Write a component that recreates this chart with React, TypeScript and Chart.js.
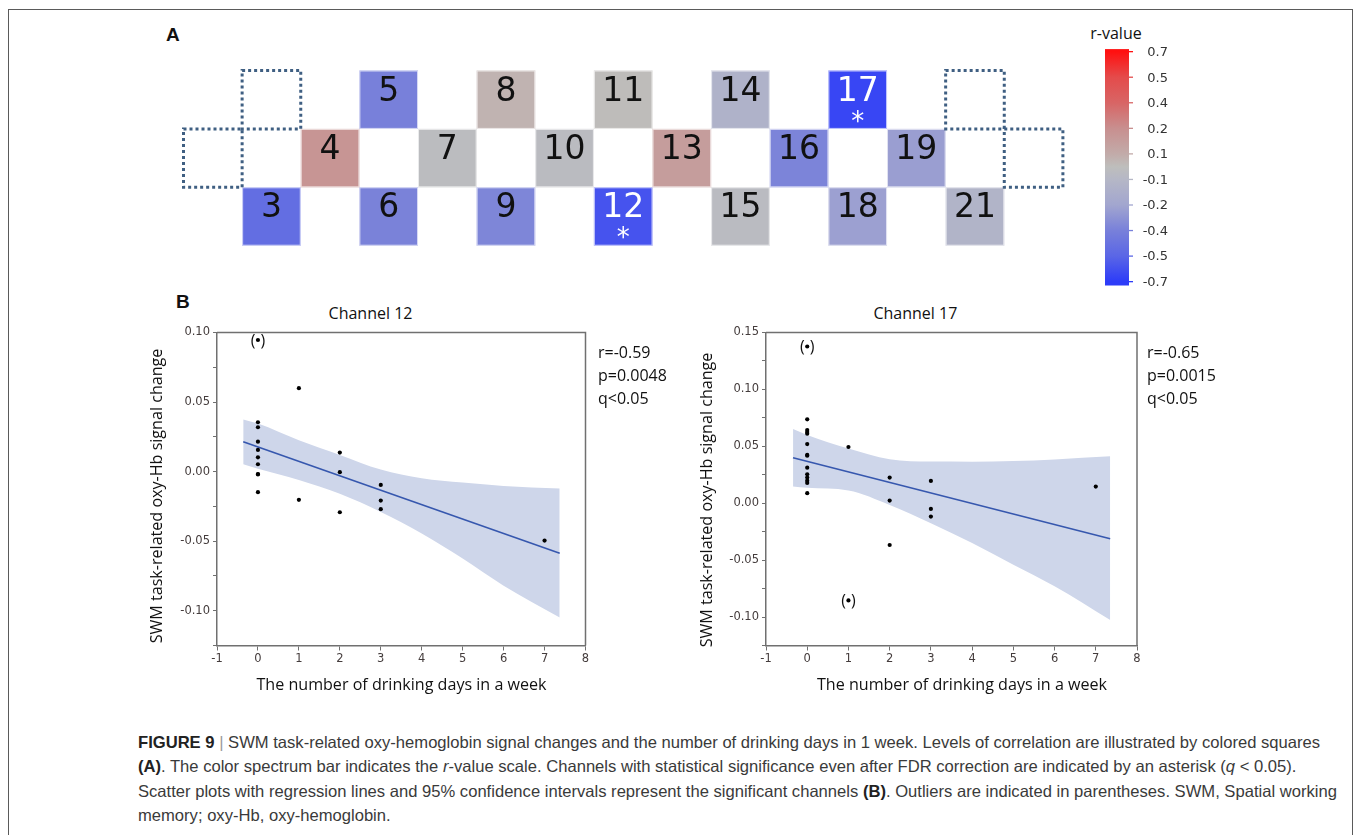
import React, { useEffect, useLayoutEffect, useRef } from "react";
import { Chart, registerables } from "chart.js";
Chart.register(...registerables);

// ===== Panel A: channel map =====
const channelIds = [3, 4, 5, 6, 7, 8, 9, 10, 11, 12, 13, 14, 15, 16, 17, 18, 19, 21];
const channelCols = [2, 3, 4, 4, 5, 6, 6, 7, 8, 8, 9, 10, 10, 11, 12, 12, 13, 14];
const channelRows = [0, 1, 2, 0, 1, 2, 0, 1, 2, 0, 1, 2, 0, 1, 2, 0, 1, 0];
const channelR = [-0.47, 0.18, -0.4, -0.39, -0.03, 0.06, -0.37, -0.04, 0.01, -0.59, 0.15, -0.13, -0.05, -0.38, -0.65, -0.23, -0.24, -0.12];
const significantChannels = [12, 17];
const emptyCols = [2, 1, 14, 15];
const emptyRows = [2, 1, 2, 1];

// ===== colour bar =====
const colorbarTicks = [0.7, 0.5, 0.4, 0.2, 0.1, -0.1, -0.2, -0.4, -0.5, -0.7];
const colorStopValues = [0.7, 0.5, 0.4, 0.2, 0.1, 0, -0.1, -0.2, -0.4, -0.5, -0.7];
const colorStopHex = ["#FF1010", "#E44B4B", "#D86565", "#C88F8F", "#C2ABA9", "#BEBEBC", "#B5B7C6", "#A2A6CF", "#7880DA", "#5A66E6", "#2D3CF8"];

// ===== Panel B: Channel 12 =====
const ch12X = [0, 0, 0, 0, 0, 0, 0, 0, 0, 1, 1, 2, 2, 2, 3, 3, 3, 7];
const ch12Y = [0.0355, 0.0319, 0.0215, 0.0156, 0.0103, 0.0053, -0.0017, -0.002, -0.0148, 0.06, -0.0203, 0.0137, -0.0004, -0.0292, -0.0096, -0.0208, -0.027, -0.0496];
const ch12OutX = [0];
const ch12OutY = [0.0946];
const ch12FitX = [-0.36, 7.37];
const ch12FitY = [0.0214, -0.0587];
const ch12BandX = [-0.36, 0, 1, 2, 3, 4, 5, 6, 7.37];
const ch12BandUpper = [0.0375, 0.0345, 0.0225, 0.012, 0.0015, -0.0047, -0.0079, -0.0103, -0.0122];
const ch12BandLower = [0.0053, 0.002, -0.006, -0.016, -0.029, -0.0445, -0.0625, -0.082, -0.1048];
const ch12Stats = ["r=-0.59", "p=0.0048", "q<0.05"];

// ===== Panel B: Channel 17 =====
const ch17X = [0, 0, 0, 0, 0, 0, 0, 0, 0, 0, 0, 0, 0, 1, 2, 2, 2, 3, 3, 3, 7];
const ch17Y = [0.0737, 0.0643, 0.0625, 0.0611, 0.052, 0.0424, 0.0418, 0.0312, 0.0254, 0.0225, 0.0198, 0.0178, 0.0088, 0.0494, 0.0225, 0.0023, -0.0367, 0.0196, -0.005, -0.0117, 0.0146];
const ch17OutX = [0, 1];
const ch17OutY = [0.1377, -0.0854];
const ch17FitX = [-0.344, 7.35];
const ch17FitY = [0.04, -0.0312];
const ch17BandX = [-0.344, 0, 1, 2, 3, 4, 5, 6, 7.35];
const ch17BandUpper = [0.0652, 0.06, 0.048, 0.0386, 0.0366, 0.0365, 0.037, 0.0385, 0.0412];
const ch17BandLower = [0.0146, 0.0135, 0.0112, -0.0015, -0.0176, -0.035, -0.054, -0.073, -0.1026];
const ch17Stats = ["r=-0.65", "p=0.0015", "q<0.05"];

// ===== axes =====
const xTickValues = [-1, 0, 1, 2, 3, 4, 5, 6, 7, 8];
const xTickLabels = ["-1", "0", "1", "2", "3", "4", "5", "6", "7", "8"];
const ch12YTicks = [-0.125, -0.1, -0.075, -0.05, -0.025, 0, 0.025, 0.05, 0.075, 0.1];
const ch12YLabels = ["", "-0.10", "", "-0.05", "", "0.00", "", "0.05", "", "0.10"];
const ch17YTicks = [-0.125, -0.1, -0.075, -0.05, -0.025, 0, 0.025, 0.05, 0.075, 0.1, 0.125, 0.15];
const ch17YLabels = ["", "-0.10", "", "-0.05", "", "0.00", "", "0.05", "", "0.10", "", "0.15"];

const FIG_FONT = '"Open Sans", "Noto Sans", sans-serif';
const TICK_FONT = '"DejaVu Sans", sans-serif';
const CAP_FONT = '"Liberation Sans", Arial, sans-serif';

function hexToRgb(h: string) {
  const n = parseInt(h.slice(1), 16);
  return [(n >> 16) & 255, (n >> 8) & 255, n & 255];
}
function colorFor(v: number) {
  const cols = colorStopHex.map(hexToRgb);
  if (v >= colorStopValues[0]) return `rgb(${cols[0].join(",")})`;
  for (let i = 0; i < colorStopValues.length - 1; i++) {
    const a = colorStopValues[i], b = colorStopValues[i + 1];
    if (v <= a && v >= b) {
      const t = (a - v) / (a - b);
      const c = cols[i].map((x, k) => Math.round(x + (cols[i + 1][k] - x) * t));
      return `rgb(${c.join(",")})`;
    }
  }
  return `rgb(${cols[cols.length - 1].join(",")})`;
}
function barPosFor(v: number) {
  for (let i = 0; i < colorbarTicks.length - 1; i++) {
    const a = colorbarTicks[i], b = colorbarTicks[i + 1];
    if (v <= a && v >= b) return i + (a - v) / (a - b);
  }
  return v > colorbarTicks[0] ? 0 : colorbarTicks.length - 1;
}

function ChartCanvas({ left, top, width, height, make }: any) {
  const ref = useRef<HTMLCanvasElement>(null);
  useEffect(() => {
    const chart = new Chart(ref.current as HTMLCanvasElement, make());
    return () => chart.destroy();
  }, []);
  return (
    <canvas
      ref={ref}
      width={width}
      height={height}
      style={{ position: "absolute", left, top, width, height, display: "block" }}
    />
  );
}

// ---------- Panel A chart ----------
const cellPlugin = {
  id: "cells",
  afterDatasetsDraw(chart: any) {
    const { ctx } = chart;
    const xs = chart.scales.x, ys = chart.scales.y;
    ctx.save();
    channelIds.forEach((id, i) => {
      const c = channelCols[i], r = channelRows[i];
      const x0 = xs.getPixelForValue(c - 1), x1 = xs.getPixelForValue(c);
      const yT = ys.getPixelForValue(r + 1), yB = ys.getPixelForValue(r);
      ctx.fillStyle = colorFor(channelR[i]);
      ctx.fillRect(x0, yT, x1 - x0, yB - yT);
      ctx.strokeStyle = "rgba(255,255,255,0.7)";
      ctx.lineWidth = 1;
      ctx.strokeRect(x0 + 0.5, yT + 0.5, x1 - x0 - 1, yB - yT - 1);
      const sig = significantChannels.includes(id);
      ctx.fillStyle = sig ? "#ffffff" : "#111111";
      ctx.font = '33px "DejaVu Sans"';
      ctx.textAlign = "center";
      ctx.textBaseline = "alphabetic";
      ctx.fillText(String(id), (x0 + x1) / 2, yT + 30);
      if (sig) {
        ctx.font = '26px "DejaVu Sans"';
        ctx.fillText("*", (x0 + x1) / 2, yT + 59);
      }
    });
    ctx.strokeStyle = "#3F5F82";
    ctx.lineWidth = 3;
    ctx.setLineDash([3, 3]);
    emptyCols.forEach((c, i) => {
      const r = emptyRows[i];
      const x0 = xs.getPixelForValue(c - 1), x1 = xs.getPixelForValue(c);
      const yT = ys.getPixelForValue(r + 1), yB = ys.getPixelForValue(r);
      ctx.strokeRect(x0, yT, x1 - x0, yB - yT);
    });
    ctx.restore();
  },
};

function makePanelA() {
  return {
    type: "scatter",
    data: {
      datasets: [
        {
          data: channelIds.map((_, i) => ({ x: channelCols[i] - 0.5, y: channelRows[i] + 0.5 })),
          pointRadius: 0,
        },
      ],
    },
    options: {
      responsive: false,
      animation: false,
      events: [],
      layout: { padding: { left: 10.5, top: 10.5, right: 10.1, bottom: 10.3 } },
      plugins: { legend: { display: false }, tooltip: { enabled: false } },
      scales: {
        x: { type: "linear", min: 0, max: 15, display: false },
        y: { type: "linear", min: 0, max: 3, display: false },
      },
    },
    plugins: [cellPlugin],
  };
}

// ---------- colour bar chart ----------
const colorbarPlugin = {
  id: "colorbar",
  afterDatasetsDraw(chart: any) {
    const { ctx, chartArea } = chart;
    const ys = chart.scales.y;
    const { left, right, top, bottom } = chartArea;
    ctx.save();
    const g = ctx.createLinearGradient(0, top, 0, bottom);
    g.addColorStop(0, colorStopHex[0]);
    colorStopValues.forEach((v, i) => {
      const off = (ys.getPixelForValue(barPosFor(v)) - top) / (bottom - top);
      g.addColorStop(Math.min(1, Math.max(0, off)), colorStopHex[i]);
    });
    g.addColorStop(1, colorStopHex[colorStopHex.length - 1]);
    ctx.fillStyle = g;
    ctx.fillRect(left, top, right - left, bottom - top);
    ctx.font = '13px "DejaVu Sans"';
    ctx.textAlign = "right";
    ctx.textBaseline = "middle";
    colorbarTicks.forEach((v, i) => {
      const py = ys.getPixelForValue(i);
      ctx.strokeStyle = colorFor(v);
      ctx.lineWidth = 1.3;
      ctx.beginPath();
      ctx.moveTo(right, py);
      ctx.lineTo(right + 4, py);
      ctx.stroke();
      ctx.fillStyle = "#333";
      ctx.fillText(v.toFixed(1), right + 39, py + 1);
    });
    ctx.restore();
  },
};

function makeColorbar() {
  return {
    type: "scatter",
    data: { datasets: [{ data: [], pointRadius: 0 }] },
    options: {
      responsive: false,
      animation: false,
      events: [],
      layout: { padding: { left: 10, top: 9.1, right: 66, bottom: 10.5 } },
      plugins: { legend: { display: false }, tooltip: { enabled: false } },
      scales: {
        x: { type: "linear", min: 0, max: 1, display: false },
        y: { type: "linear", min: -0.1, max: 9.15, reverse: true, display: false },
      },
    },
    plugins: [colorbarPlugin],
  };
}

// ---------- scatter charts ----------
const boxPlugin = {
  id: "box",
  afterDraw(chart: any) {
    const { ctx, chartArea } = chart;
    ctx.save();
    ctx.strokeStyle = "#707070";
    ctx.lineWidth = 1.5;
    ctx.beginPath();
    ctx.moveTo(chartArea.left, chartArea.top);
    ctx.lineTo(chartArea.right, chartArea.top);
    ctx.lineTo(chartArea.right, chartArea.bottom);
    ctx.stroke();
    ctx.restore();
  },
};

const parenPlugin = {
  id: "paren",
  afterDatasetsDraw(chart: any) {
    const { ctx } = chart;
    const meta = chart.getDatasetMeta(1);
    ctx.save();
    ctx.fillStyle = "#111";
    ctx.font = `16px ${FIG_FONT}`;
    ctx.textBaseline = "middle";
    meta.data.forEach((el: any) => {
      ctx.textAlign = "right";
      ctx.fillText("(", el.x - 2.5, el.y + 1);
      ctx.textAlign = "left";
      ctx.fillText(")", el.x + 2.5, el.y + 1);
    });
    ctx.restore();
  },
};

function makeScatter(p: any) {
  const pts = (xs: number[], ys: number[]) => xs.map((x, i) => ({ x, y: ys[i] }));
  const axisColor = "#707070";
  return {
    type: "scatter",
    data: {
      datasets: [
        { data: pts(p.x, p.y), pointRadius: 2.1, pointBackgroundColor: "#000", pointBorderWidth: 0, order: 0 },
        { data: pts(p.outX, p.outY), pointRadius: 2.1, pointBackgroundColor: "#000", pointBorderWidth: 0, order: 0 },
        { data: pts(p.fitX, p.fitY), showLine: true, borderColor: "#3657AE", borderWidth: 1.6, pointRadius: 0, order: 1 },
        {
          data: pts(p.bandX, p.upper), showLine: true, borderWidth: 0, borderColor: "rgba(0,0,0,0)",
          pointRadius: 0, fill: "+1", backgroundColor: "#CED6EA", cubicInterpolationMode: "monotone", order: 2,
        },
        {
          data: pts(p.bandX, p.lower), showLine: true, borderWidth: 0, borderColor: "rgba(0,0,0,0)",
          pointRadius: 0, fill: false, cubicInterpolationMode: "monotone", order: 3,
        },
      ],
    },
    options: {
      responsive: false,
      animation: false,
      events: [],
      layout: { padding: { left: 0, top: p.padTop, right: p.padRight, bottom: p.padBottom } },
      plugins: { legend: { display: false }, tooltip: { enabled: false } },
      scales: {
        x: {
          type: "linear", min: -1, max: 8,
          afterBuildTicks: (axis: any) => { axis.ticks = xTickValues.map((v) => ({ value: v })); },
          afterFit: (s: any) => { s.height = 30; },
          ticks: {
            autoSkip: false, maxRotation: 0, padding: 2,
            callback: (_v: any, i: number) => xTickLabels[i],
            font: { family: TICK_FONT, size: 11.5 }, color: "#443c3c",
          },
          grid: { drawOnChartArea: false, drawTicks: true, tickLength: 5, color: axisColor, lineWidth: 1 },
          border: { color: axisColor, width: 1.5 },
        },
        y: {
          type: "linear", min: p.yTicks[0], max: p.yTicks[p.yTicks.length - 1],
          afterBuildTicks: (axis: any) => { axis.ticks = p.yTicks.map((v: number) => ({ value: v })); },
          afterFit: (s: any) => { s.width = p.yAxisWidth; },
          ticks: {
            autoSkip: false, padding: 3,
            callback: (_v: any, i: number) => p.yLabels[i],
            font: { family: TICK_FONT, size: 11.5 }, color: "#443c3c",
          },
          grid: { drawOnChartArea: false, drawTicks: true, tickLength: 4, color: axisColor, lineWidth: 1 },
          border: { color: axisColor, width: 1.5 },
        },
      },
    },
    plugins: [boxPlugin, parenPlugin],
  };
}

function Text({ left, top, width, align = "left", size = 16, family = FIG_FONT, lh = 20, children, weight = 400, extra = {} }: any) {
  return (
    <div
      style={{
        position: "absolute", left, top, width, textAlign: align, fontSize: size, fontFamily: family,
        lineHeight: `${lh}px`, whiteSpace: "nowrap", color: "#111", fontWeight: weight, ...extra,
      }}
    >
      {children}
    </div>
  );
}

function VText({ cx, cy, children }: any) {
  return (
    <div
      style={{
        position: "absolute", left: cx - 200, top: cy - 10, width: 400, height: 20, textAlign: "center",
        fontFamily: FIG_FONT, fontSize: 16.1, lineHeight: "20px", color: "#111", whiteSpace: "nowrap",
        transform: "rotate(-90deg)", transformOrigin: "50% 50%",
      }}
    >
      {children}
    </div>
  );
}

// Caption: one condensed block; horizontal scale taken from the first line's measured width
function Caption({ left, top, firstLineWidth }: any) {
  const ref = useRef<HTMLDivElement>(null);
  const firstRef = useRef<HTMLDivElement>(null);
  useLayoutEffect(() => {
    const el = ref.current as HTMLDivElement;
    const first = firstRef.current as HTMLDivElement;
    const w = first.getBoundingClientRect().width;
    if (w > 0) el.style.transform = `scaleX(${firstLineWidth / w})`;
  }, []);
  const line: React.CSSProperties = { whiteSpace: "nowrap", display: "block", height: 24.3 };
  const bold: React.CSSProperties = { color: "#222", fontWeight: 700 };
  return (
    <div
      ref={ref}
      style={{
        position: "absolute", left, top, transformOrigin: "0 0",
        fontFamily: CAP_FONT, fontSize: 16.5, lineHeight: "24.3px", color: "#3a3a3a",
      }}
    >
      <div style={line}>
        <span ref={firstRef as any} style={{ display: "inline-block" }}>
          <span style={bold}>FIGURE 9</span>
          <span style={{ color: "#999" }}> | </span>
          SWM task-related oxy-hemoglobin signal changes and the number of drinking days in 1 week. Levels of correlation are illustrated by colored squares
        </span>
      </div>
      <div style={line}>
        <span style={bold}>(A)</span>. The color spectrum bar indicates the <i>r</i>-value scale. Channels with statistical significance even after FDR correction are indicated by an asterisk (<i>q</i> &lt; 0.05).
      </div>
      <div style={line}>
        Scatter plots with regression lines and 95% confidence intervals represent the significant channels <span style={bold}>(B)</span>. Outliers are indicated in parentheses. SWM, Spatial working
      </div>
      <div style={line}>memory; oxy-Hb, oxy-hemoglobin.</div>
    </div>
  );
}

export default function App() {
  const ch12 = {
    x: ch12X, y: ch12Y, outX: ch12OutX, outY: ch12OutY, fitX: ch12FitX, fitY: ch12FitY,
    bandX: ch12BandX, upper: ch12BandUpper, lower: ch12BandLower,
    yTicks: ch12YTicks, yLabels: ch12YLabels, yAxisWidth: 67, padTop: 12.5, padRight: 14.5, padBottom: 4.5,
  };
  const ch17 = {
    x: ch17X, y: ch17Y, outX: ch17OutX, outY: ch17OutY, fitX: ch17FitX, fitY: ch17FitY,
    bandX: ch17BandX, upper: ch17BandUpper, lower: ch17BandLower,
    yTicks: ch17YTicks, yLabels: ch17YLabels, yAxisWidth: 66, padTop: 12.5, padRight: 13, padBottom: 4.5,
  };
  return (
    <div style={{ position: "absolute", left: 0, top: 0, width: 1356, height: 835, overflow: "hidden", background: "#fff" }}>
      <div style={{ position: "absolute", left: 8, top: 9, width: 1345, height: 900, border: "1.3px solid #5a5a5a", boxSizing: "border-box" }} />

      <Text left={166} top={25} size={19} family={CAP_FONT} weight={700}>A</Text>
      <ChartCanvas left={173} top={60} width={900} height={196} make={makePanelA} />

      <Text left={1066} top={23} width={100} align="center">r-value</Text>
      <ChartCanvas left={1095} top={40} width={100} height={256} make={makeColorbar} />

      <Text left={176} top={292} size={19} family={CAP_FONT} weight={700}>B</Text>

      <Text left={270.5} top={303} width={200} align="center">Channel 12</Text>
      <ChartCanvas left={150} top={320} width={450} height={360} make={() => makeScatter(ch12)} />
      <Text left={598} top={340.6} lh={23}>
        {ch12Stats.map((s, i) => <div key={i}>{s}</div>)}
      </Text>
      <VText cx={156} cy={496}>SWM task-related oxy-Hb signal change</VText>
      <Text left={201.5} top={674} width={400} align="center" size={16.1}>The number of drinking days in a week</Text>

      <Text left={815.4} top={303} width={200} align="center">Channel 17</Text>
      <ChartCanvas left={700} top={320} width={450} height={360} make={() => makeScatter(ch17)} />
      <Text left={1147} top={340.6} lh={23}>
        {ch17Stats.map((s, i) => <div key={i}>{s}</div>)}
      </Text>
      <VText cx={706} cy={500}>SWM task-related oxy-Hb signal change</VText>
      <Text left={762} top={674} width={400} align="center" size={16.1}>The number of drinking days in a week</Text>

      <Caption left={138} top={730} firstLineWidth={1182} />
    </div>
  );
}
